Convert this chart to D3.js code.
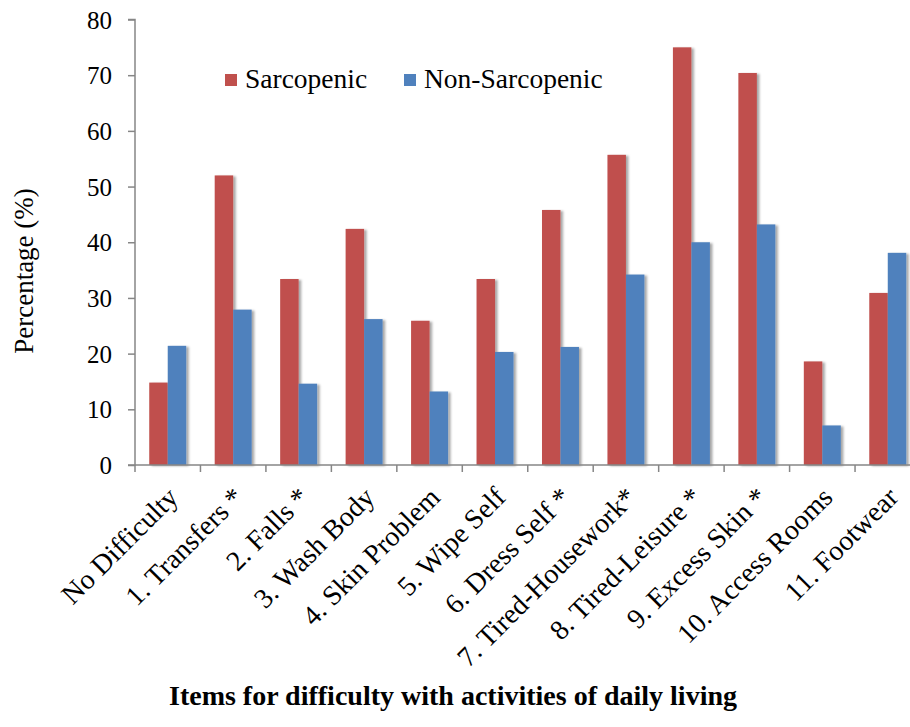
<!DOCTYPE html>
<html>
<head>
<meta charset="utf-8">
<script src="https://cdn.jsdelivr.net/npm/d3@7/dist/d3.min.js"></script>
<style>
  html, body { margin: 0; padding: 0; background: #fff; }
  svg { display: block; }
</style>
</head>
<body>
<svg id="chart" width="910" height="727"></svg>
<script>
const categories = ["No Difficulty", "1. Transfers *", "2. Falls *", "3. Wash Body", "4. Skin Problem",
  "5. Wipe Self", "6. Dress Self *", "7. Tired-Housework*", "8. Tired-Leisure *", "9. Excess Skin *",
  "10. Access Rooms", "11. Footwear"];
const seriesNames = ["Sarcopenic", "Non-Sarcopenic"];
const sarcopenic = [14.8, 52.0, 33.4, 42.4, 25.9, 33.4, 45.8, 55.7, 75.0, 70.4, 18.6, 30.9];
const nonSarcopenic = [21.4, 27.9, 14.6, 26.2, 13.2, 20.3, 21.2, 34.2, 40.0, 43.2, 7.1, 38.1];
const yTicks = [0, 10, 20, 30, 40, 50, 60, 70, 80];
const colors = ["#C0504D", "#4F81BD"];

(function () {
const FONT = "'Liberation Serif', 'Times New Roman', serif";
const svg = d3.select("#chart").attr("font-family", FONT);
const defs = svg.append("defs");
const f = defs.append("filter").attr("id", "shadow").attr("x", "-20%").attr("y", "-5%").attr("width", "150%").attr("height", "115%");
f.append("feDropShadow").attr("dx", 2.5).attr("dy", 1).attr("stdDeviation", 1).attr("flood-color", "#000").attr("flood-opacity", 0.35);

const mLeft = 135, mRight = 920.5, mTop = 19.5, mBottom = 465;
const x = d3.scaleBand().domain(categories).range([mLeft, mRight]).paddingInner(0).paddingOuter(0);
const inner = d3.scaleBand().domain(seriesNames).range([0, x.bandwidth()]).paddingInner(0).paddingOuter(0.77);
const y = d3.scaleLinear().domain([0, 80]).range([mBottom, mTop]);

const data = categories.map((c, i) => ({ c, vals: [sarcopenic[i], nonSarcopenic[i]] }));

// bars
const g = svg.append("g");
data.forEach(d => {
  seriesNames.forEach((s, j) => {
    g.append("rect")
      .attr("x", x(d.c) + inner(s))
      .attr("y", y(d.vals[j]))
      .attr("width", inner.bandwidth())
      .attr("height", y(0) - y(d.vals[j]))
      .attr("fill", colors[j])
      .attr("filter", "url(#shadow)");
  });
});

// y axis
const yAxis = d3.axisLeft(y).tickValues(yTicks).tickSize(7).tickPadding(16).tickFormat(d3.format("d"));
const ya = svg.append("g").attr("transform", `translate(${mLeft},0)`).call(yAxis);
ya.attr("font-family", FONT).attr("font-size", 25);
ya.select(".domain").attr("stroke", "#868686").attr("stroke-width", 1.5).attr("d", `M-7,${mTop}H0V${mBottom}H-7`);
ya.selectAll(".tick line").attr("stroke", "#868686").attr("stroke-width", 1.5);
ya.selectAll(".tick text").attr("font-family", FONT).attr("font-size", 25).attr("fill", "#000").attr("dy", "0.34em");

// x axis
const xa = svg.append("g").attr("transform", `translate(0,${mBottom})`);
xa.append("line").attr("x1", mLeft).attr("x2", mRight).attr("y1", 0).attr("y2", 0).attr("stroke", "#868686").attr("stroke-width", 1.5);
const boundaries = categories.map(c => x(c)).concat([mRight]);
xa.selectAll("line.tk").data(boundaries).enter().append("line")
  .attr("class", "tk").attr("x1", d => d).attr("x2", d => d).attr("y1", 0).attr("y2", 7)
  .attr("stroke", "#868686").attr("stroke-width", 1.5);

svg.append("g").selectAll("text").data(categories).enter().append("text")
  .attr("transform", d => `translate(${x(d) + x.bandwidth() / 2 + 12},499) rotate(-45)`)
  .attr("text-anchor", "end")
  .attr("font-family", FONT)
  .attr("font-size", 28)
  .text(d => d);

// y axis title
svg.append("text")
  .attr("transform", `translate(33,271) rotate(-90)`)
  .attr("text-anchor", "middle")
  .attr("font-family", FONT)
  .attr("font-size", 27)
  .text("Percentage (%)");

// x axis title
svg.append("text")
  .attr("x", 453).attr("y", 705)
  .attr("text-anchor", "middle")
  .attr("font-family", FONT)
  .attr("font-size", 28).attr("font-weight", "bold")
  .text("Items for difficulty with activities of daily living");

// legend
const legX = [225, 404];
seriesNames.forEach((s, j) => {
  svg.append("rect").attr("x", legX[j]).attr("y", 74).attr("width", 12).attr("height", 12).attr("fill", colors[j]);
  svg.append("text").attr("x", legX[j] + 20).attr("y", 88).attr("font-family", FONT).attr("font-size", 27.5).text(s);
});
})();
</script>
</body>
</html>
